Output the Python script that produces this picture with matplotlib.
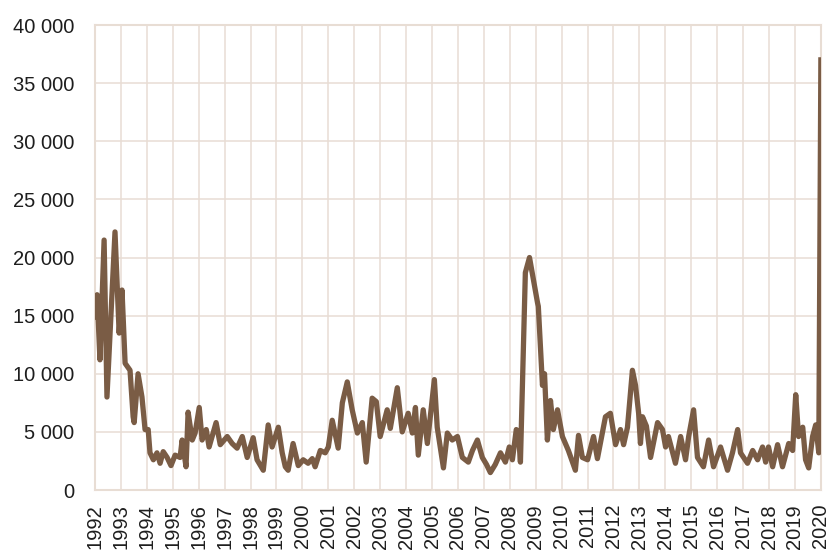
import matplotlib
matplotlib.use("Agg")
import matplotlib.pyplot as plt
from matplotlib.ticker import FuncFormatter

# Decimal-year positions and values
dates = [
    1992.00, 1992.08, 1992.19, 1992.35, 1992.46, 1992.77, 1992.93, 1993.04, 1993.16, 1993.35,
    1993.47, 1993.51, 1993.66, 1993.81, 1993.93, 1994.05, 1994.12, 1994.25, 1994.39, 1994.51, 1994.63,
    1994.78, 1994.93, 1995.09, 1995.28, 1995.36, 1995.51, 1995.59, 1995.75, 1995.86, 1996.02,
    1996.13, 1996.29, 1996.40, 1996.67, 1996.83, 1997.10, 1997.29, 1997.48, 1997.68, 1997.87,
    1998.10, 1998.25, 1998.49, 1998.68, 1998.83, 1999.07, 1999.22, 1999.34, 1999.45, 1999.64,
    1999.84, 2000.03, 2000.22, 2000.38, 2000.49, 2000.69, 2000.88, 2001.00, 2001.15, 2001.38,
    2001.54, 2001.73, 2001.92, 2002.12, 2002.31, 2002.46, 2002.69, 2002.85, 2003.00, 2003.27,
    2003.39, 2003.66, 2003.85, 2004.08, 2004.24, 2004.36, 2004.47, 2004.66, 2004.82, 2005.09,
    2005.20, 2005.44, 2005.59, 2005.78, 2005.98, 2006.17, 2006.40, 2006.56, 2006.75, 2006.94,
    2007.10, 2007.25, 2007.44, 2007.64, 2007.83, 2007.98, 2008.10, 2008.25, 2008.33, 2008.41,
    2008.60, 2008.76, 2009.07, 2009.10, 2009.26, 2009.34, 2009.45, 2009.57, 2009.68, 2009.84,
    2010.03, 2010.26, 2010.53, 2010.65, 2010.80, 2011.00, 2011.23, 2011.38, 2011.69, 2011.88,
    2012.08, 2012.27, 2012.39, 2012.54, 2012.73, 2012.85, 2012.97, 2013.04, 2013.12, 2013.27,
    2013.43, 2013.70, 2013.89, 2014.01, 2014.12, 2014.39, 2014.59, 2014.78, 2014.90, 2015.09,
    2015.24, 2015.47, 2015.67, 2015.86, 2016.13, 2016.40, 2016.59, 2016.79, 2016.90, 2017.17,
    2017.37, 2017.56, 2017.75, 2017.87, 2017.98, 2018.14, 2018.33, 2018.52, 2018.76, 2018.91,
    2019.03, 2019.14, 2019.30, 2019.41, 2019.53, 2019.68, 2019.80, 2019.92, 2020.00,
]
values = [
    14900, 16800, 11200, 21500, 8000, 22200, 13500, 17200, 10900, 10300,
    6300, 5800, 10000, 8000, 5200, 5200, 3200, 2600, 3200, 2300, 3300,
    2800, 2100, 3000, 2800, 4300, 2000, 6700, 4300, 4900, 7100,
    4300, 5200, 3700, 5800, 3900, 4600, 4000, 3600, 4600, 2800,
    4500, 2600, 1700, 5600, 3700, 5400, 3200, 2000, 1700, 4000,
    2100, 2600, 2300, 2700, 2000, 3400, 3200, 3700, 6000, 3600,
    7500, 9300, 6900, 4900, 5800, 2400, 7900, 7600, 4600, 6900,
    5300, 8800, 5000, 6600, 4900, 7100, 3000, 6900, 4000, 9500,
    5400, 1900, 4900, 4300, 4600, 2800, 2400, 3400, 4300, 2800,
    2200, 1500, 2200, 3200, 2400, 3700, 2600, 5200, 5000, 2400,
    18700, 20000, 16100, 15800, 9000, 10000, 4300, 7700, 5200, 6900,
    4600, 3400, 1700, 4700, 2800, 2600, 4600, 2700, 6300, 6600,
    3900, 5200, 3900, 5400, 10300, 9000, 6600, 4000, 6300, 5500,
    2800, 5800, 5200, 3700, 4600, 2300, 4600, 2600, 4600, 6900,
    2800, 2000, 4300, 2000, 3700, 1700, 3200, 5200, 3200, 2300,
    3400, 2600, 3700, 2400, 3700, 2000, 3900, 2000, 4000, 3400,
    8200, 4600, 5400, 2600, 1900, 4600, 5600, 3200, 37000,
]
year_ticks = list(range(1992, 2021))
y_ticks = list(range(0, 40001, 5000))

plt.rcParams['font.family'] = ['Liberation Sans', 'DejaVu Sans']

fig = plt.figure(figsize=(8.3, 5.52), dpi=100)
ax = fig.add_axes([0.1145, 0.1123, 0.8745, 0.8424])

grid_col = '#e8ddd4'
ax.plot(dates, values, color='#7a5c45', linewidth=3.8, solid_joinstyle='round', zorder=3)

ax.set_xlim(1992, 2020)
ax.set_ylim(0, 40000)
ax.set_xticks(year_ticks)
ax.set_xticklabels([str(y) for y in year_ticks], rotation=90)
ax.set_yticks(y_ticks)
ax.yaxis.set_major_formatter(FuncFormatter(lambda v, p: f"{int(v):,}".replace(",", " ")))
ax.grid(True, color=grid_col, linewidth=1.1, zorder=0)
ax.tick_params(length=0, labelsize=14.5, colors='#1e1e1e')
ax.tick_params(axis='y', pad=15)
ax.tick_params(axis='x', pad=10)
for s in ax.spines.values():
    s.set_color(grid_col)
    s.set_linewidth(1.5)

fig.savefig('out.png', dpi=100)
